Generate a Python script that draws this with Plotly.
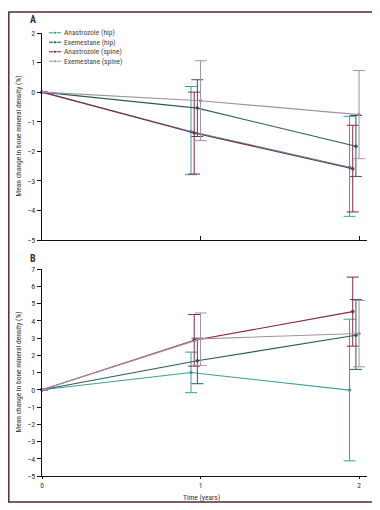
import plotly.graph_objects as go

# ---------------- data ----------------
times = [0, 1, 2]
series_names = ["Anastrozole (hip)", "Exemestane (hip)", "Anastrozole (spine)", "Exemestane (spine)"]
series_colors = ["#3a9fa0", "#2c5e4c", "#8a2448", "#a48eac"]
dodge = [-0.06, -0.02, -0.04, 0.0]  # horizontal offset per series at years 1 and 2

# Panel A
a_mean = {
    "Anastrozole (hip)":   [0, -1.33, -2.54],
    "Exemestane (hip)":    [0, -0.54, -1.83],
    "Anastrozole (spine)": [0, -1.38, -2.59],
    "Exemestane (spine)":  [0, -0.29, -0.76],
}
a_upper = {
    "Anastrozole (hip)":   [0, 0.19, -0.82],
    "Exemestane (hip)":    [0, 0.42, -0.79],
    "Anastrozole (spine)": [0, 0.0, -1.12],
    "Exemestane (spine)":  [0, 1.06, 0.73],
}
a_lower = {
    "Anastrozole (hip)":   [0, -2.79, -4.2],
    "Exemestane (hip)":    [0, -1.5, -2.85],
    "Anastrozole (spine)": [0, -2.77, -4.05],
    "Exemestane (spine)":  [0, -1.64, -2.25],
}

# Panel B
b_mean = {
    "Anastrozole (hip)":   [0, 1.0, -0.02],
    "Exemestane (hip)":    [0, 1.68, 3.16],
    "Anastrozole (spine)": [0, 2.87, 4.53],
    "Exemestane (spine)":  [0, 2.95, 3.26],
}
b_upper = {
    "Anastrozole (hip)":   [0, 2.18, 4.09],
    "Exemestane (hip)":    [0, 2.99, 5.23],
    "Anastrozole (spine)": [0, 4.36, 6.53],
    "Exemestane (spine)":  [0, 4.45, 5.18],
}
b_lower = {
    "Anastrozole (hip)":   [0, -0.17, -4.12],
    "Exemestane (hip)":    [0, 0.35, 1.18],
    "Anastrozole (spine)": [0, 1.37, 2.53],
    "Exemestane (spine)":  [0, 1.41, 1.33],
}

a_ticks = [2, 1, 0, -1, -2, -3, -4, -5]
b_ticks = [7, 6, 5, 4, 3, 2, 1, 0, -1, -2, -3, -4, -5]
x_ticks = [0, 1, 2]
y_title = "Mean change in bone mineral density (%)"
x_title = "Time (years)"

# ---------------- figure ----------------
OFF = 8                      # page body margin of the html
W, H = 380 - OFF, 510 - OFF
FONT = "Liberation Sans Narrow, Roboto Condensed, Liberation Sans, Arial, sans-serif"
fig = go.Figure()

def add_panel(means, uppers, lowers, xa, ya):
    for name, col, dx in zip(series_names, series_colors, dodge):
        m = means[name]
        xs = [t + (dx if t > 0 else 0) for t in times]
        up = [u - v for u, v in zip(uppers[name], m)]
        lo = [v - l for l, v in zip(lowers[name], m)]
        fig.add_trace(go.Scatter(
            x=xs, y=m, mode="lines+markers", name=name, showlegend=False,
            line=dict(color=col, width=1.1),
            marker=dict(color=col, size=3.5),
            error_y=dict(type="data", symmetric=False, array=up, arrayminus=lo,
                         color=col, thickness=1, width=6),
            xaxis=xa, yaxis=ya, cliponaxis=False,
        ))

add_panel(a_mean, a_upper, a_lower, "x", "y")
add_panel(b_mean, b_upper, b_lower, "x2", "y2")

# legend drawn on its own small axis (1 unit = 1 px horizontally)
for i, (name, col) in enumerate(zip(series_names, series_colors)):
    fig.add_trace(go.Scatter(
        x=[0, 6, 12], y=[-i, -i, -i], mode="lines+markers",
        line=dict(color=col, width=1.1), marker=dict(color=col, size=[0, 3.5, 0]),
        showlegend=False, xaxis="x3", yaxis="y3", hoverinfo="skip"))
    fig.add_annotation(x=13, y=-i, xref="x3", yref="y3", text=name,
                       showarrow=False, xanchor="left", yanchor="middle",
                       font=dict(size=7.5, color="#444", family=FONT))

def py(p):  # page pixel y -> paper
    return 1 - (p - OFF) / H

def px(p):  # page pixel x -> paper
    return (p - OFF) / W

x0, x1 = px(42), px(367)
xrange = [0, 2.05]

axis_common = dict(showline=True, linecolor="#111", linewidth=1.2, showgrid=False,
                   zeroline=False, ticks="outside", ticklen=4, tickcolor="#111",
                   automargin=False,
                   tickfont=dict(size=8, family=FONT, color="#333"))

fig.update_layout(
    template="none",
    width=W, height=H, margin=dict(l=0, r=0, t=0, b=0, pad=0),
    paper_bgcolor="white", plot_bgcolor="rgba(0,0,0,0)",
    font=dict(family=FONT, color="#333"),
    showlegend=False,
    xaxis=dict(domain=[x0, x1], range=xrange, anchor="y",
               showline=True, linecolor="#111", linewidth=1.2, showgrid=False,
               zeroline=False, ticks="inside", ticklen=4, tickcolor="#111",
               tickvals=x_ticks, showticklabels=False, automargin=False),
    yaxis=dict(domain=[py(240), py(33)], range=[-5, 2], anchor="x",
               tickvals=a_ticks, **axis_common),
    xaxis2=dict(domain=[x0, x1], range=xrange, anchor="y2", tickvals=x_ticks,
                **{**axis_common, "tickfont": dict(size=7.5, family=FONT, color="#333"),
                   "ticklen": 2}),
    yaxis2=dict(domain=[py(476), py(269)], range=[-5, 7], anchor="x2",
                tickvals=b_ticks, **axis_common),
    xaxis3=dict(domain=[px(49), px(140)], range=[0, 91], visible=False,
                fixedrange=True, automargin=False),
    yaxis3=dict(domain=[py(66), py(28)], range=[-3.5, 0.5], visible=False,
                fixedrange=True, automargin=False),
)

def note(x, y, text, size, angle=0):
    fig.add_annotation(x=px(x), y=py(y), xref="paper", yref="paper", text=text,
                       textangle=angle, showarrow=False, xanchor="center",
                       yanchor="middle", font=dict(size=size, family=FONT, color="#333"))

# panel labels
note(33, 20, "<b>A</b>", 10)
note(33, 258, "<b>B</b>", 10)
# y titles
note(18, (33 + 240) / 2, y_title, 7.5, -90)
note(18, (269 + 476) / 2, y_title, 7.5, -90)
# x title
note(201, 497, x_title, 7.5)

# outer frame (left edge sits at the page edge of the figure)
fig.add_shape(type="rect", xref="paper", yref="paper",
              x0=px(8.8), x1=px(373), y0=py(502), y1=py(12),
              line=dict(color="#5a2838", width=1.5))

fig.write_html("out.html")
